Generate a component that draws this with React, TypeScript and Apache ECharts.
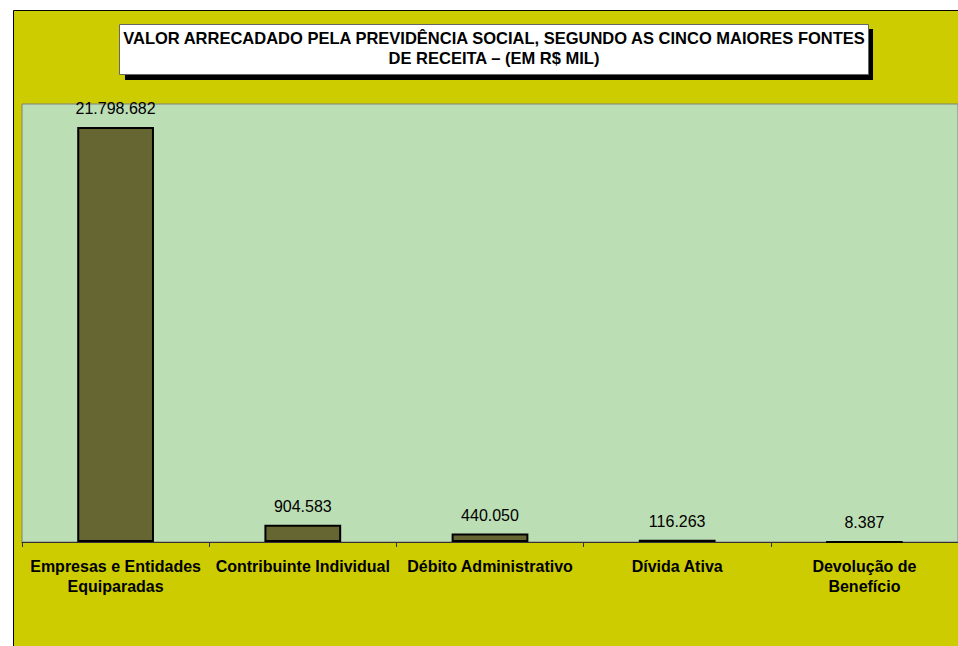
import React, { useEffect, useRef } from "react";
import * as echarts from "echarts";

const categories = [
  "Empresas e Entidades\nEquiparadas",
  "Contribuinte Individual",
  "Débito Administrativo",
  "Dívida Ativa",
  "Devolução de\nBenefício",
];
const values = [21798682, 904583, 440050, 116263, 8387];
const titleLines = [
  "VALOR ARRECADADO PELA PREVIDÊNCIA SOCIAL, SEGUNDO AS CINCO MAIORES FONTES",
  "DE RECEITA – (EM R$ MIL)",
];

const fmt = (v: number) => String(v).replace(/\B(?=(\d{3})+(?!\d))/g, ".");
const FONT = "'Liberation Sans', Arial, sans-serif";

export default function App() {
  const ref = useRef<HTMLDivElement>(null);
  useEffect(() => {
    document.body.style.margin = "0";
    const chart = echarts.init(ref.current!, null, { renderer: "svg" });
    chart.setOption({
      animation: false,
      backgroundColor: "#ffffff",
      textStyle: { fontFamily: FONT },
      graphic: [
        {
          type: "rect",
          z: -10,
          silent: true,
          shape: { x: 13.5, y: 10.5, width: 960, height: 650 },
          style: { fill: "#CCCC00", stroke: "#000", lineWidth: 1 },
        },
        {
          type: "rect",
          z: 100,
          shape: { x: 125, y: 29, width: 748, height: 51 },
          style: { fill: "#000" },
        },
        {
          type: "rect",
          z: 101,
          shape: { x: 119.5, y: 24.5, width: 749, height: 50 },
          style: { fill: "#fff", stroke: "#666", lineWidth: 1 },
        },
        {
          type: "text",
          z: 102,
          x: 494,
          y: 48,
          style: {
            text: titleLines.join("\n"),
            font: "bold 16.5px " + FONT,
            fill: "#000",
            align: "center",
            verticalAlign: "middle",
            lineHeight: 20,
          },
        },
      ],
      grid: {
        left: 22,
        top: 104,
        right: 0,
        bottom: 104,
        show: true,
        backgroundColor: "#BCDEB4",
        borderColor: "#808080",
        borderWidth: 1,
      },
      xAxis: {
        type: "category",
        data: categories,
        axisLine: { lineStyle: { color: "#333", width: 1 } },
        axisTick: { show: true, length: 5, lineStyle: { color: "#333" } },
        axisLabel: {
          interval: 0,
          margin: 14,
          fontWeight: "bold",
          fontSize: 16,
          color: "#000",
          lineHeight: 20,
          fontFamily: FONT,
        },
      },
      yAxis: {
        type: "value",
        show: false,
        min: 0,
        max: 23000000,
        splitLine: { show: false },
      },
      series: [
        {
          type: "bar",
          data: values,
          barWidth: "41%",
          itemStyle: { color: "#666633", borderColor: "#000", borderWidth: 2 },
          label: {
            show: true,
            position: "top",
            distance: 10,
            fontSize: 16,
            color: "#000",
            fontFamily: FONT,
            formatter: (p: any) => fmt(p.value),
          },
        },
      ],
    });
    return () => chart.dispose();
  }, []);
  return <div ref={ref} style={{ width: 958, height: 646 }} />;
}
